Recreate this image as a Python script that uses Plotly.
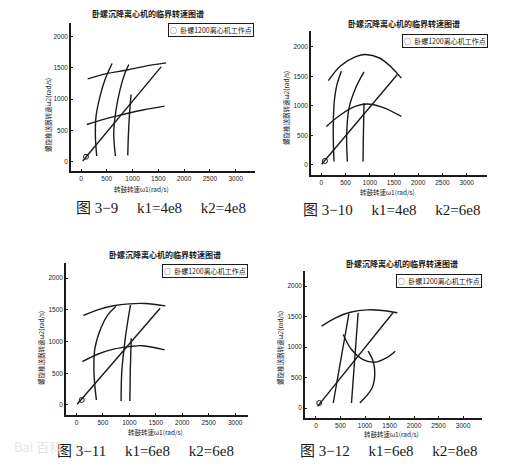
import plotly.graph_objects as go

W, H = 512, 469

# 图3-9  k1=4e8 k2=4e8
p1_upper_x = [130, 500, 874, 1250, 1651]
p1_upper_y = [1322, 1405, 1460, 1525, 1576]
p1_lower_x = [111, 450, 810, 1200, 1620]
p1_lower_y = [594, 680, 753, 825, 887]
p1_v1_x = [305, 279, 292, 370, 466, 603]
p1_v1_y = [91, 409, 727, 1046, 1311, 1566]
p1_v2_x = [668, 635, 681, 758, 843, 927]
p1_v2_y = [91, 462, 833, 1151, 1390, 1550]
p1_v3_x = [907, 918, 940, 972]
p1_v3_y = [101, 400, 750, 1072]
p1_diag_x = [33, 1554]
p1_diag_y = [11, 1513]
p1_pt_x = [97]
p1_pt_y = [80]

# 图3-10  k1=4e8 k2=6e8
p2_upper_x = [145, 400, 700, 915, 1200, 1450, 1652]
p2_upper_y = [1428, 1680, 1830, 1870, 1810, 1650, 1470]
p2_lower_x = [103, 400, 700, 950, 1250, 1652]
p2_lower_y = [652, 850, 990, 1031, 980, 822]
p2_v1_x = [262, 248, 250, 270, 320, 413]
p2_v1_y = [57, 400, 800, 1100, 1350, 1586]
p2_v2_x = [537, 523, 571, 709, 881]
p2_v2_y = [57, 510, 963, 1303, 1575]
p2_v3_x = [860, 866, 874, 881]
p2_v3_y = [57, 400, 750, 1048]
p2_diag_x = [7, 1569]
p2_diag_y = [11, 1530]
p2_pt_x = [76]
p2_pt_y = [68]

# 图3-11  k1=6e8 k2=6e8
p3_upper_x = [132, 400, 700, 1000, 1300, 1681]
p3_upper_y = [1411, 1500, 1565, 1595, 1600, 1563]
p3_lower_x = [112, 400, 700, 1000, 1250, 1668]
p3_lower_y = [684, 800, 880, 920, 935, 868]
p3_v1_x = [376, 330, 349, 461, 593, 745]
p3_v1_y = [79, 526, 895, 1210, 1421, 1553]
p3_v2_x = [844, 857, 923, 969, 1022]
p3_v2_y = [63, 526, 1053, 1316, 1579]
p3_v3_x = [1009, 1018, 1035]
p3_v3_y = [63, 550, 1053]
p3_diag_x = [13, 1582]
p3_diag_y = [11, 1526]
p3_pt_x = [99]
p3_pt_y = [79]

# 图3-12  k1=6e8 k2=8e8
p4_upper_x = [114, 400, 700, 1050, 1350, 1660]
p4_upper_y = [1343, 1480, 1570, 1610, 1600, 1562]
p4_v1_x = [352, 671]
p4_v1_y = [82, 1545]
p4_v2_x = [724, 860]
p4_v2_y = [82, 1562]
p4_u_x = [555, 724, 961, 1199, 1435, 1618]
p4_u_y = [1205, 959, 795, 751, 822, 932]
p4_arc_x = [1063, 1165, 1199, 1144, 894]
p4_arc_y = [932, 767, 548, 329, 82]
p4_diag_x = [33, 1571]
p4_diag_y = [27, 1562]
p4_pt_x = [67]
p4_pt_y = [82]

x_ticks = [0, 500, 1000, 1500, 2000, 2500, 3000]
y_ticks = [0, 500, 1000, 1500, 2000]

chart_title = '卧螺沉降离心机的临界转速图谱'
legend_name = '卧螺1200离心机工作点'
x_title = '转鼓转速ω1(rad/s)'
y_title = '螺旋推送器转速ω2(rad/s)'
captions = ['图 3−9     k1=4e8     k2=4e8',
            '图 3−10     k1=4e8     k2=6e8',
            '图 3−11     k1=6e8     k2=6e8',
            '图 3−12     k1=6e8     k2=8e8']

panels = [
    [(p1_upper_x, p1_upper_y), (p1_lower_x, p1_lower_y), (p1_v1_x, p1_v1_y),
     (p1_v2_x, p1_v2_y), (p1_v3_x, p1_v3_y), (p1_diag_x, p1_diag_y), (p1_pt_x, p1_pt_y)],
    [(p2_upper_x, p2_upper_y), (p2_lower_x, p2_lower_y), (p2_v1_x, p2_v1_y),
     (p2_v2_x, p2_v2_y), (p2_v3_x, p2_v3_y), (p2_diag_x, p2_diag_y), (p2_pt_x, p2_pt_y)],
    [(p3_upper_x, p3_upper_y), (p3_lower_x, p3_lower_y), (p3_v1_x, p3_v1_y),
     (p3_v2_x, p3_v2_y), (p3_v3_x, p3_v3_y), (p3_diag_x, p3_diag_y), (p3_pt_x, p3_pt_y)],
    [(p4_upper_x, p4_upper_y), (p4_u_x, p4_u_y), (p4_v1_x, p4_v1_y),
     (p4_v2_x, p4_v2_y), (p4_arc_x, p4_arc_y), (p4_diag_x, p4_diag_y), (p4_pt_x, p4_pt_y)],
]

# per panel: axis box in pixels (left, right, top, bottom), axis ranges,
# title centre, legend box centre, axis title spots, caption centre
boxes = [
    dict(px=(63, 247, 15, 163), xr=[-194, 3375], yr=[-148, 2213],
         title=(140, 6), leg=(203, 22), xt=(133, 181), yt=(40, 107), cap=(153, 200)),
    dict(px=(303, 479, 23, 167), xr=[-213, 3419], yr=[-170, 2267],
         title=(396, 16), leg=(437, 33), xt=(379, 184), yt=(278, 100), cap=(383, 202)),
    dict(px=(58, 240, 255, 407), xr=[-198, 3243], yr=[-158, 2239],
         title=(157, 247), leg=(197, 263), xt=(147, 424), yt=(33, 340), cap=(137, 443)),
    dict(px=(297, 474, 263, 410), xr=[-224, 3386], yr=[-164, 2247],
         title=(394, 255), leg=(431, 273), xt=(383, 426), yt=(272, 340), cap=(380, 443)),
]

ink = '#1a1a1a'
cjk = 'Noto Sans CJK SC'


def note(text, cx, cy, size, family=cjk, color=ink, **kw):
    '''texto centrado num ponto em pixels'''
    return dict(text=text, x=cx / W, y=1 - cy / H, xref='paper', yref='paper',
                xanchor='center', yanchor='middle', showarrow=False,
                font=dict(size=size, family=family, color=color), **kw)


fig = go.Figure()
annotations = []
layout = {}

for i, (curves, b) in enumerate(zip(panels, boxes)):
    n = i + 1
    sfx = '' if n == 1 else str(n)
    for cx, cy in curves[:-1]:
        fig.add_trace(go.Scatter(
            x=cx, y=cy, mode='lines', showlegend=False,
            line=dict(color=ink, width=1.4, shape='spline', smoothing=1.0),
            xaxis='x' + sfx, yaxis='y' + sfx, hoverinfo='skip'))
    px_, py_ = curves[-1]
    fig.add_trace(go.Scatter(
        x=px_, y=py_, mode='markers', name=legend_name, showlegend=False,
        marker=dict(symbol='circle-open', size=5, color=ink, line=dict(width=1)),
        xaxis='x' + sfx, yaxis='y' + sfx))

    l, r, t, btm = b['px']
    axis_common = dict(showline=True, linecolor=ink, linewidth=1.5, showgrid=False,
                       zeroline=False, ticks='inside', ticklen=2, tickcolor=ink,
                       tickfont=dict(size=6.5, color=ink,
                                     family='Liberation Sans Narrow, Liberation Sans'))
    layout['xaxis' + sfx] = dict(axis_common, domain=[l / W, r / W], range=b['xr'],
                                 tickvals=x_ticks, anchor='y' + sfx)
    layout['yaxis' + sfx] = dict(axis_common, domain=[1 - btm / H, 1 - t / H], range=b['yr'],
                                 tickvals=y_ticks, anchor='x' + sfx)

    annotations.append(note('<b>' + chart_title + '</b>', *b['title'], 8))
    annotations.append(note('○  ' + legend_name, *b['leg'], 7,
                            bordercolor=ink, borderwidth=1, borderpad=1, bgcolor='white'))
    annotations.append(note(x_title, *b['xt'], 6.5))
    annotations.append(note(y_title, *b['yt'], 6.5, textangle=-90))
    annotations.append(note(captions[i], *b['cap'], 15, family='Liberation Serif, ' + cjk))

# faint scan watermark
annotations.append(note('Bai 百科', 30, 438, 13, color='#e6e6e6'))

fig.update_layout(
    width=W, height=H,
    margin=dict(l=0, r=0, t=0, b=0),
    paper_bgcolor='white', plot_bgcolor='white',
    annotations=annotations,
    **layout,
)

fig.write_html("out.html")
